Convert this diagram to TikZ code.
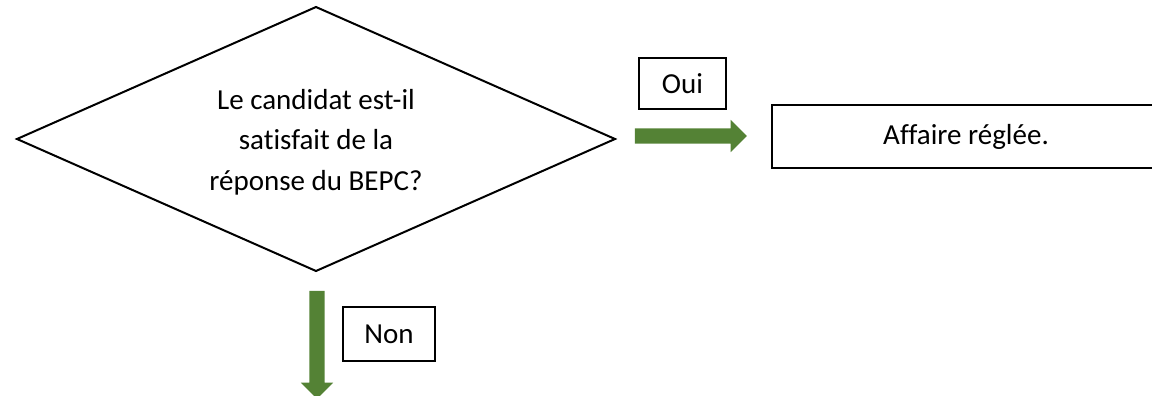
\documentclass[tikz,border=0pt]{standalone}
\usepackage{fontspec}
\setmainfont[Ligatures=NoCommon]{Carlito}
\usetikzlibrary{shapes.arrows}
\definecolor{arrowgreen}{RGB}{84,130,53}
\tikzset{
  txt/.style={font=\fontsize{29}{40.5}\selectfont},
  outline/.style={draw=black, line width=2pt, line join=miter},
  labelbox/.style={rectangle, outline, inner sep=0pt, outer sep=0pt, txt},
  blockarrow/.style={single arrow, fill=arrowgreen, draw=none, inner sep=7.5pt, outer sep=0pt,
    single arrow head extend=8.5pt, single arrow head indent=0pt, single arrow tip angle=90}
}
\begin{document}
\begin{tikzpicture}[x=1pt,y=-1pt]
\useasboundingbox (0,0) rectangle (1152,396);
\coordinate (qt) at (316,7);
\coordinate (qr) at (615,139);
\coordinate (qb) at (316,271);
\coordinate (ql) at (17,139);
\draw[outline] (qt) -- (qr) -- (qb) -- (ql) -- cycle;
\node[txt, align=center, inner sep=0pt] (q) at (316,142)
  {Le candidat est-il\\satisfait de la\\réponse du BEPC?};
\node[labelbox, minimum width=388pt, minimum height=63pt] (ok) at (966,136.5) {Affaire réglée.};
\node[labelbox, minimum width=87pt, minimum height=51pt] (oui) at (682.5,83.5) {Oui};
\node[labelbox, minimum width=92pt, minimum height=54pt] (non) at (389,334) {Non};
\node[blockarrow, minimum height=112pt] (aoui) at (687,136) {};
\node[blockarrow, minimum height=108pt, shape border rotate=270] (anon) at (317,341) {};
\end{tikzpicture}
\end{document}
